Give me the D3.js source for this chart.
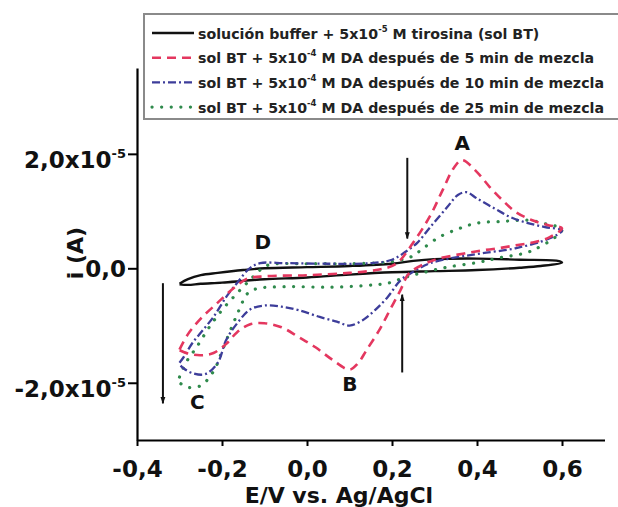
<!DOCTYPE html>
<html><head><meta charset="utf-8">
<script src="https://cdn.jsdelivr.net/npm/d3@7"></script>
<style>
body{margin:0;background:#fff;}
text{font-family:"DejaVu Sans",sans-serif;}
</style></head>
<body><svg id="c" width="618" height="507"></svg>
<script>
// ---- data (current in units of 1e-5 A, potential in V vs Ag/AgCl) ----
const blackE = [-0.30,-0.28,-0.25,-0.21,-0.15,-0.10,0.00,0.10,0.20,0.25,0.30,0.40,0.50,0.59,0.60,0.55,0.50,0.40,0.30,0.20,0.10,0.00,-0.10,-0.15,-0.20,-0.25,-0.28,-0.30];
const blackI = [-0.27,-0.19,-0.12,-0.08,-0.03,0.00,0.02,0.04,0.08,0.13,0.16,0.17,0.15,0.13,0.10,0.04,0.01,-0.03,-0.05,-0.07,-0.11,-0.16,-0.19,-0.22,-0.25,-0.27,-0.29,-0.28];

const redE = [-0.30,-0.28,-0.25,-0.21,-0.17,-0.14,-0.10,0.00,0.10,0.17,0.21,0.25,0.29,0.32,0.345,0.365,0.40,0.43,0.46,0.49,0.53,0.57,0.60,
              0.57,0.53,0.49,0.45,0.41,0.37,0.31,0.28,0.24,0.22,0.195,0.17,0.14,0.12,0.10,0.06,0.02,-0.02,-0.06,-0.10,-0.135,-0.165,-0.19,-0.22,-0.25,-0.28,-0.30];
const redI = [-1.42,-1.15,-0.88,-0.60,-0.33,-0.18,-0.14,-0.12,-0.08,-0.02,0.08,0.45,0.92,1.38,1.75,1.89,1.68,1.42,1.19,0.99,0.84,0.75,0.70,
              0.54,0.45,0.40,0.35,0.31,0.26,0.17,0.09,-0.09,-0.38,-0.73,-1.08,-1.43,-1.66,-1.77,-1.60,-1.38,-1.20,-1.03,-0.96,-0.98,-1.12,-1.32,-1.48,-1.52,-1.49,-1.43];

const blueE = [-0.30,-0.29,-0.27,-0.245,-0.22,-0.19,-0.165,-0.135,-0.11,-0.05,0.05,0.15,0.20,0.23,0.26,0.29,0.33,0.355,0.375,0.40,0.44,0.48,0.52,0.56,0.60,
               0.57,0.49,0.41,0.35,0.29,0.25,0.22,0.19,0.16,0.13,0.10,0.07,0.03,-0.02,-0.06,-0.10,-0.134,-0.16,-0.19,-0.21,-0.24,-0.27,-0.29,-0.30];
const blueI = [-1.65,-1.55,-1.31,-1.08,-0.85,-0.50,-0.26,0.00,0.09,0.09,0.08,0.09,0.15,0.28,0.45,0.72,1.07,1.28,1.33,1.22,1.05,0.89,0.79,0.72,0.66,
               0.52,0.35,0.26,0.19,0.09,-0.06,-0.21,-0.50,-0.73,-0.91,-1.00,-0.93,-0.85,-0.73,-0.67,-0.65,-0.72,-0.92,-1.25,-1.65,-1.85,-1.83,-1.75,-1.68];

const greenE = [-0.30,-0.285,-0.26,-0.23,-0.20,-0.165,-0.135,-0.11,-0.09,0.00,0.10,0.18,0.22,0.25,0.27,0.31,0.36,0.40,0.46,0.52,0.56,0.60,
                0.53,0.45,0.40,0.33,0.27,0.23,0.19,0.14,0.05,-0.05,-0.12,-0.14,-0.16,-0.18,-0.20,-0.22,-0.25,-0.28,-0.30];
const greenI = [-1.90,-1.65,-1.38,-1.03,-0.73,-0.44,-0.21,-0.03,0.06,0.08,0.08,0.10,0.14,0.22,0.33,0.54,0.70,0.79,0.82,0.84,0.78,0.68,
                0.31,0.18,0.10,0.02,-0.08,-0.16,-0.26,-0.30,-0.33,-0.32,-0.36,-0.44,-0.73,-1.08,-1.45,-1.80,-2.05,-2.08,-2.00];

const legendLabels = [
  ["solución buffer + 5x10", "-5", " M tirosina (sol BT)"],
  ["sol BT + 5x10", "-4", " M DA después de 5 min de mezcla"],
  ["sol BT + 5x10", "-4", " M DA después de 10 min de mezcla"],
  ["sol BT + 5x10", "-4", " M DA después de 25 min de mezcla"]
];
const xTicks = [-0.4,-0.2,0.0,0.2,0.4,0.6];
const xTickLabels = ["-0,4","-0,2","0,0","0,2","0,4","0,6"];
const xMinorTicks = [-0.3,-0.1,0.1,0.3,0.5,0.7];
const yTicks = [-2,0,2];
const yTickLabels = ["-2,0x10","0,0","2,0x10"];
const yTickExps = ["-5","","-5"];
const yMinorTicks = [-3,-1,1,3];
const peakLabels = [
  {t:"A", E:0.365, i:2.19},
  {t:"B", E:0.101, i:-2.01},
  {t:"C", E:-0.258, i:-2.33},
  {t:"D", E:-0.104, i:0.46}
];
const arrows = [
  {E:-0.339, i0:-0.26, i1:-2.36},
  {E:0.236, i0:1.93, i1:0.52},
  {E:0.224, i0:-1.82, i1:-0.46}
];

// ---- layout ----
const svg = d3.select("#c");
const x = d3.scaleLinear().domain([-0.4,0.7]).range([137,604.5]);
const y = d3.scaleLinear().domain([-3.0,3.5]).range([440,68]);

const series = [
  {E:blackE, I:blackI, color:"#111", width:2.4, dash:null, cap:"butt"},
  {E:greenE, I:greenI, color:"#2f8a4c", width:3.2, dash:"0.1,9.5", cap:"round"},
  {E:blueE, I:blueI, color:"#3d3d9a", width:2.3, dash:"8,3,2,3", cap:"butt"},
  {E:redE, I:redI, color:"#e4375f", width:2.6, dash:"9,6", cap:"butt"}
];
const line = d3.line().x(d=>x(d[0])).y(d=>y(d[1])).curve(d3.curveCatmullRom.alpha(0.5));
series.forEach(s=>{
  const pts = s.E.map((e,k)=>[e,s.I[k]]);
  svg.append("path").attr("d",line(pts)).attr("fill","none")
    .attr("stroke",s.color).attr("stroke-width",s.width)
    .attr("stroke-dasharray",s.dash).attr("stroke-linecap",s.cap)
    .attr("stroke-linejoin","round");
});

// axes
const gx = svg.append("g").attr("transform",`translate(0,${y(-3)})`);
gx.call(d3.axisBottom(x).tickValues(xMinorTicks).tickSize(5).tickSizeOuter(0).tickFormat(""));
gx.call(d3.axisBottom(x).tickValues(xTicks).tickSize(6).tickSizeOuter(0).tickFormat((d,k)=>xTickLabels[k]));
gx.selectAll("path.domain").attr("stroke","#000").attr("stroke-width",2.2);
gx.selectAll("line").attr("stroke","#000").attr("stroke-width",2);
gx.selectAll("text").attr("y",21).attr("dy","0.71em").attr("font-family","DejaVu Sans")
  .attr("font-size",23).attr("font-weight","bold").attr("fill","#111");

const gy = svg.append("g").attr("transform",`translate(${x(-0.4)},0)`);
gy.call(d3.axisLeft(y).tickValues(yMinorTicks).tickSize(5).tickSizeOuter(0).tickFormat(""));
gy.call(d3.axisLeft(y).tickValues(yTicks).tickSize(9).tickSizeOuter(0).tickFormat(""));
gy.selectAll("path.domain").attr("stroke","#000").attr("stroke-width",2.2);
gy.selectAll("line").attr("stroke","#000").attr("stroke-width",2);
yTicks.forEach((v,k)=>{
  const t = svg.append("text").attr("x",x(-0.4)-11).attr("y",y(v)+(yTickExps[k]?14:8.5))
    .attr("text-anchor","end").attr("font-size",23).attr("font-weight","bold").attr("fill","#111");
  t.append("tspan").text(yTickLabels[k]);
  if (yTickExps[k]) t.append("tspan").attr("font-size",13).attr("dy",-10).text(yTickExps[k]);
});

// axis titles
svg.append("text").attr("x",x(0.075)).attr("y",503).attr("text-anchor","middle")
  .attr("font-size",22).attr("font-weight","bold").attr("fill","#111").text("E/V vs. Ag/AgCl");
svg.append("text").attr("transform","translate(83,253) rotate(-90)").attr("text-anchor","middle")
  .attr("font-size",22).attr("font-weight","bold").attr("fill","#111").text("i (A)");

// arrows
const defs = svg.append("defs");
defs.append("marker").attr("id","ah").attr("viewBox","0 0 10 10").attr("refX",9).attr("refY",5)
  .attr("markerWidth",7).attr("markerHeight",7).attr("markerUnits","userSpaceOnUse").attr("orient","auto")
  .append("path").attr("d","M0,1.5 L10,5 L0,8.5 Z").attr("fill","#111");
arrows.forEach(a=>{
  svg.append("line").attr("x1",x(a.E)).attr("x2",x(a.E)).attr("y1",y(a.i0)).attr("y2",y(a.i1))
    .attr("stroke","#111").attr("stroke-width",2).attr("marker-end","url(#ah)");
});

// peak labels
peakLabels.forEach(p=>{
  svg.append("text").attr("x",x(p.E)).attr("y",y(p.i)+7.5).attr("text-anchor","middle")
    .attr("font-size",20).attr("font-weight","bold").attr("fill","#111").text(p.t);
});

// legend
const lg = svg.append("g");
lg.append("rect").attr("x",144).attr("y",14).attr("width",490).attr("height",105)
  .attr("fill","#fff").attr("stroke","#8a8a8a").attr("stroke-width",2);
const legendStyles = [series[0],series[3],series[2],series[1]];
legendLabels.forEach((lab,k)=>{
  const cy = 33 + k*24.7;
  const s = legendStyles[k];
  lg.append("line").attr("x1",152).attr("x2",194).attr("y1",cy).attr("y2",cy)
    .attr("stroke",s.color).attr("stroke-width",s.width).attr("stroke-dasharray",s.dash).attr("stroke-linecap",s.cap);
  const t = lg.append("text").attr("x",198).attr("y",cy+5.5).attr("font-family","Liberation Sans")
    .attr("font-size",14.2).attr("font-weight","bold").attr("fill","#222");
  t.append("tspan").text(lab[0]);
  t.append("tspan").attr("font-size",8.5).attr("dy",-7).text(lab[1]);
  t.append("tspan").attr("dy",7).text(lab[2]);
  const w = t.node().getComputedTextLength();
  const maxW = 612 - 198;
  if (w > maxW) t.attr("textLength",maxW).attr("lengthAdjust","spacingAndGlyphs");
});
</script></body></html>
